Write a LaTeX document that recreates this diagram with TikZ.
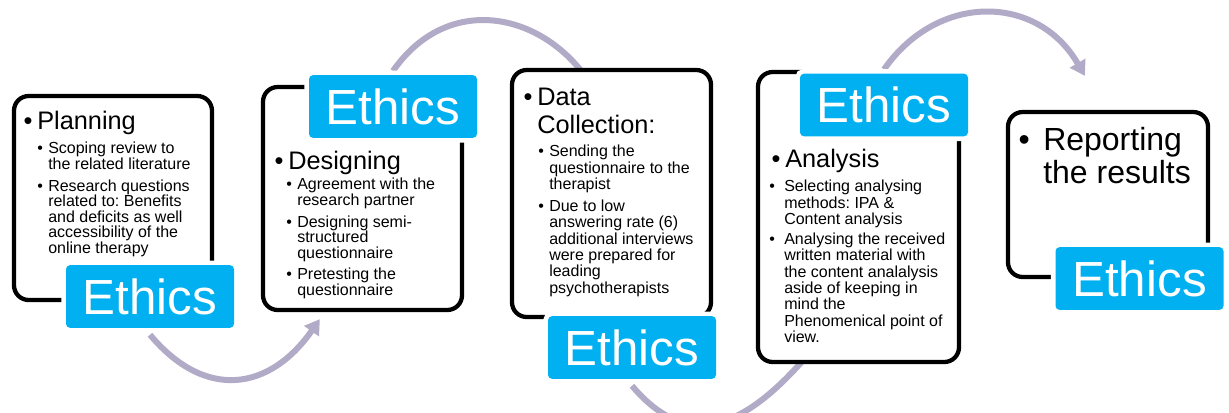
\documentclass[tikz,border=0pt]{standalone}
\usepackage{fontspec}
\setmainfont{Liberation Sans}
\frenchspacing
\usetikzlibrary{arrows.meta,fit,backgrounds}

\definecolor{ethicsblue}{RGB}{0,176,240}
\definecolor{flowgrey}{RGB}{178,171,200}
\newcommand{\bul}[1][4pt]{\llap{\textbullet\hspace{#1}}}

\begin{document}
\begin{tikzpicture}[x = 0.75pt, y = 0.75pt,
  stage/.style = {draw, line width = 3.2pt, rounded corners = 11pt, fill = white, inner sep = 0pt},
  ethics/.style = {fill = ethicsblue, rounded corners = 3pt, inner sep = 0pt, text = white,
    minimum width = 126pt, minimum height = 47pt,
    font = \fontsize{37}{40}\selectfont, preaction = {draw = white, line width = 7pt}},
  head/.style = {anchor = north west, inner sep = 0pt, align = left, font = \fontsize{19}{21}\selectfont},
  detail/.style = {anchor = north west, inner sep = 0pt, align = left, font = \fontsize{12}{11.7}\selectfont},
  flow/.style = {draw = flowgrey, line width = 4.5pt, -{Triangle[length = 11pt, width = 13pt]}}]
\useasboundingbox (0, 0) rectangle (1229, -412);

% stage frames
\node[stage, fit = {(14, -96) (212, -300)}] (b1) {};
\node[stage, fit = {(263, -87) (462, -310)}] (b2) {};
\node[stage, fit = {(512, -70) (711, -317)}] (b3) {};
\node[stage, fit = {(758, -72) (959, -362)}] (b4) {};
\node[stage, fit = {(1008, -112) (1208, -277)}] (b5) {};

% ethics tags
\node[ethics] (e1) at (150, -296.5) {Ethics};
\node[ethics] (e2) at (393, -106.5) {Ethics};
\node[ethics] (e3) at (632, -347.5) {Ethics};
\node[ethics] (e4) at (884, -105) {Ethics};
\node[ethics] (e5) at (1139.5, -278.5) {Ethics};

% planning
\node[head] (h1) at (37, -111) {\bul[3.5pt]Planning};
\node[detail] (d1) at (48, -142) {\bul Scoping review to\\the related literature\\[4.5pt]
  \bul Research questions\\related to: Benefits\\and deficits as well\\accessibility of the\\online therapy};

% designing
\node[head] (h2) at (288, -151) {\bul[3.5pt]Designing};
\node[detail] (d2) at (297, -178) {\bul Agreement with the\\research partner\\[4.5pt]
  \bul Designing semi-\\structured\\questionnaire\\[4.5pt]
  \bul Pretesting the\\questionnaire};

% data collection
\node[head] (h3) at (537, -88) {\bul[3.5pt]Data\\Collection:};
\node[detail, font = \fontsize{12}{12.2}\selectfont] (d3) at (549, -145) {\bul Sending the\\questionnaire to the\\therapist\\[4.5pt]
  \bul Due to low\\answering rate (6)\\additional interviews\\were prepared for\\leading\\psychotherapists};

% analysis
\node[head] (h4) at (785, -149) {\bul[3.5pt]Analysis};
\node[detail, font = \fontsize{12}{12.2}\selectfont] (d4) at (784, -180) {\bul[7pt]Selecting analysing\\methods: IPA \&\\Content analysis\\[3pt]
  \bul[7pt]Analysing the received\\written material with\\the content analalysis\\aside of keeping in\\mind the\\Phenomenical point of\\view.};

% reporting
\node[head, font = \fontsize{24}{25}\selectfont] (h5) at (1043, -127) {\bul[10pt]Reporting\\the results};

% arcs between the stages
\begin{scope}[on background layer]
\draw[flow] ([yshift = -5pt]e1.south) to [out = -50, in = -125, looseness = 1.3] ([shift = {(59, -7)}]b2.south west);
\draw[flow] ([yshift = 3pt]e2.north) to [out = 55, in = 125, looseness = 1.2] ([shift = {(85, -22)}]b3.north west);
\draw[flow] ([yshift = -5pt]e3.south) to [out = -50, in = -130, looseness = 1.3] ([shift = {(67, 27)}]b4.south west);
\draw[flow] ([yshift = 3pt]e4.north) to [out = 55, in = 120, looseness = 1.2] ([shift = {(79, 34)}]b5.north west);
\end{scope}
\end{tikzpicture}
\end{document}
